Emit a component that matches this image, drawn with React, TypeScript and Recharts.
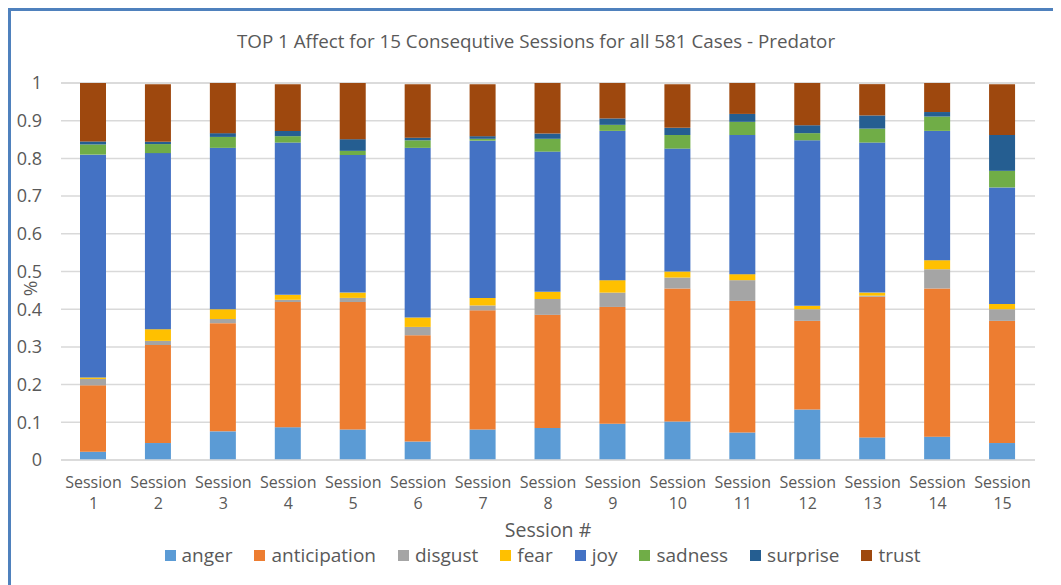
import React from 'react';
import { BarChart, Bar, XAxis, YAxis, CartesianGrid, Legend } from 'recharts';

const sessions = ['1', '2', '3', '4', '5', '6', '7', '8', '9', '10', '11', '12', '13', '14', '15'];
const anger = [0.022, 0.045, 0.076, 0.087, 0.081, 0.049, 0.081, 0.085, 0.096, 0.102, 0.073, 0.134, 0.06, 0.062, 0.045];
const anticipation = [0.176, 0.26, 0.287, 0.332, 0.338, 0.282, 0.316, 0.3, 0.31, 0.353, 0.349, 0.235, 0.373, 0.393, 0.324];
const disgust = [0.017, 0.011, 0.011, 0.006, 0.011, 0.022, 0.013, 0.042, 0.038, 0.029, 0.055, 0.031, 0.003, 0.051, 0.031];
const fear = [0.004, 0.031, 0.026, 0.013, 0.014, 0.025, 0.02, 0.019, 0.033, 0.016, 0.016, 0.009, 0.008, 0.024, 0.014];
const joy = [0.591, 0.467, 0.428, 0.404, 0.365, 0.45, 0.417, 0.372, 0.396, 0.326, 0.369, 0.439, 0.398, 0.343, 0.309];
const sadness = [0.027, 0.024, 0.029, 0.017, 0.011, 0.02, 0.005, 0.034, 0.016, 0.036, 0.035, 0.019, 0.037, 0.038, 0.044];
const surprise = [0.008, 0.006, 0.01, 0.014, 0.031, 0.007, 0.007, 0.014, 0.017, 0.019, 0.021, 0.021, 0.035, 0.012, 0.095];
const trust = [0.155, 0.153, 0.133, 0.124, 0.149, 0.142, 0.138, 0.134, 0.094, 0.116, 0.082, 0.112, 0.083, 0.077, 0.135];
const yTicks = [0, 0.1, 0.2, 0.3, 0.4, 0.5, 0.6, 0.7, 0.8, 0.9, 1];

const seriesNames = ['anger', 'anticipation', 'disgust', 'fear', 'joy', 'sadness', 'surprise', 'trust'];
const seriesValues = [anger, anticipation, disgust, fear, joy, sadness, surprise, trust];
const colors = ['#5B9BD5', '#ED7D31', '#A5A5A5', '#FFC000', '#4472C4', '#70AD47', '#255E91', '#9E480E'];

const data = sessions.map((s, i) => {
  const row: Record<string, number | string> = { name: s };
  seriesNames.forEach((n, k) => {
    row[n] = seriesValues[k][i];
  });
  return row;
});

const FONT = '"Open Sans", sans-serif';
const TXT = '#595959';

const XTick = (props: any) => {
  const { x, y, payload } = props;
  return (
    <text x={x} y={y} textAnchor="middle" fill={TXT} fontSize={16} fontFamily={FONT}>
      <tspan x={x} dy={20}>Session</tspan>
      <tspan x={x} dy={21}>{payload.value}</tspan>
    </text>
  );
};

const YLabel = (props: any) => {
  const vb = props.viewBox || {};
  const cx = vb.x + 19;
  const cy = vb.y + vb.height / 2 + 17;
  return (
    <text x={cx} y={cy} transform={`rotate(-90, ${cx}, ${cy})`} textAnchor="middle" dominantBaseline="central" fill={TXT} fontSize={19} fontFamily={FONT}>
      %
    </text>
  );
};

const LegendContent = () => (
  <div style={{ height: 24, display: 'flex', justifyContent: 'center', alignItems: 'center', fontFamily: FONT, fontSize: 19, lineHeight: '22px', color: TXT, paddingLeft: 39 }}>
    {seriesNames.map((n, k) => (
      <div key={n} style={{ display: 'flex', alignItems: 'center', marginRight: k === seriesNames.length - 1 ? 0 : 22 }}>
        <div style={{ width: 11, height: 11, background: colors[k], marginRight: 6 }} />
        <span>{n}</span>
      </div>
    ))}
  </div>
);

export default function App() {
  return (
    <div style={{ position: 'relative', width: 1050, height: 574, borderTop: '3px solid #4F81BD', borderLeft: '3px solid #4F81BD' }}>
      <div style={{ position: 'absolute', top: 17, left: 0, width: 1050, textAlign: 'center', fontFamily: FONT, fontSize: 18.8, color: TXT }}>
        TOP 1 Affect for 15 Consequtive Sessions for all 581 Cases - Predator
      </div>
      <BarChart width={1050} height={574} data={data} margin={{ top: 72, right: 26, left: 0, bottom: 18 }}>
        <CartesianGrid vertical={false} stroke="#D9D9D9" strokeWidth={1.5} />
        <XAxis
          dataKey="name"
          height={83}
          tickLine={false}
          axisLine={{ stroke: '#D9D9D9', strokeWidth: 1.5 }}
          tick={<XTick />}
          interval={0}
          label={{ value: 'Session #', position: 'insideBottom', offset: 6, fill: TXT, fontSize: 19.5, fontFamily: FONT }}
        />
        <YAxis
          width={50}
          domain={[0, 1]}
          ticks={yTicks}
          tickLine={false}
          axisLine={false}
          tickSize={0}
          tickMargin={19}
          tick={{ fill: TXT, fontSize: 18, fontFamily: FONT }}
          label={<YLabel />}
        />
        <Legend verticalAlign="bottom" content={<LegendContent />} />
        {seriesNames.map((n, k) => (
          <Bar key={n} dataKey={n} stackId="a" fill={colors[k]} barSize={26} isAnimationActive={false} />
        ))}
      </BarChart>
    </div>
  );
}
